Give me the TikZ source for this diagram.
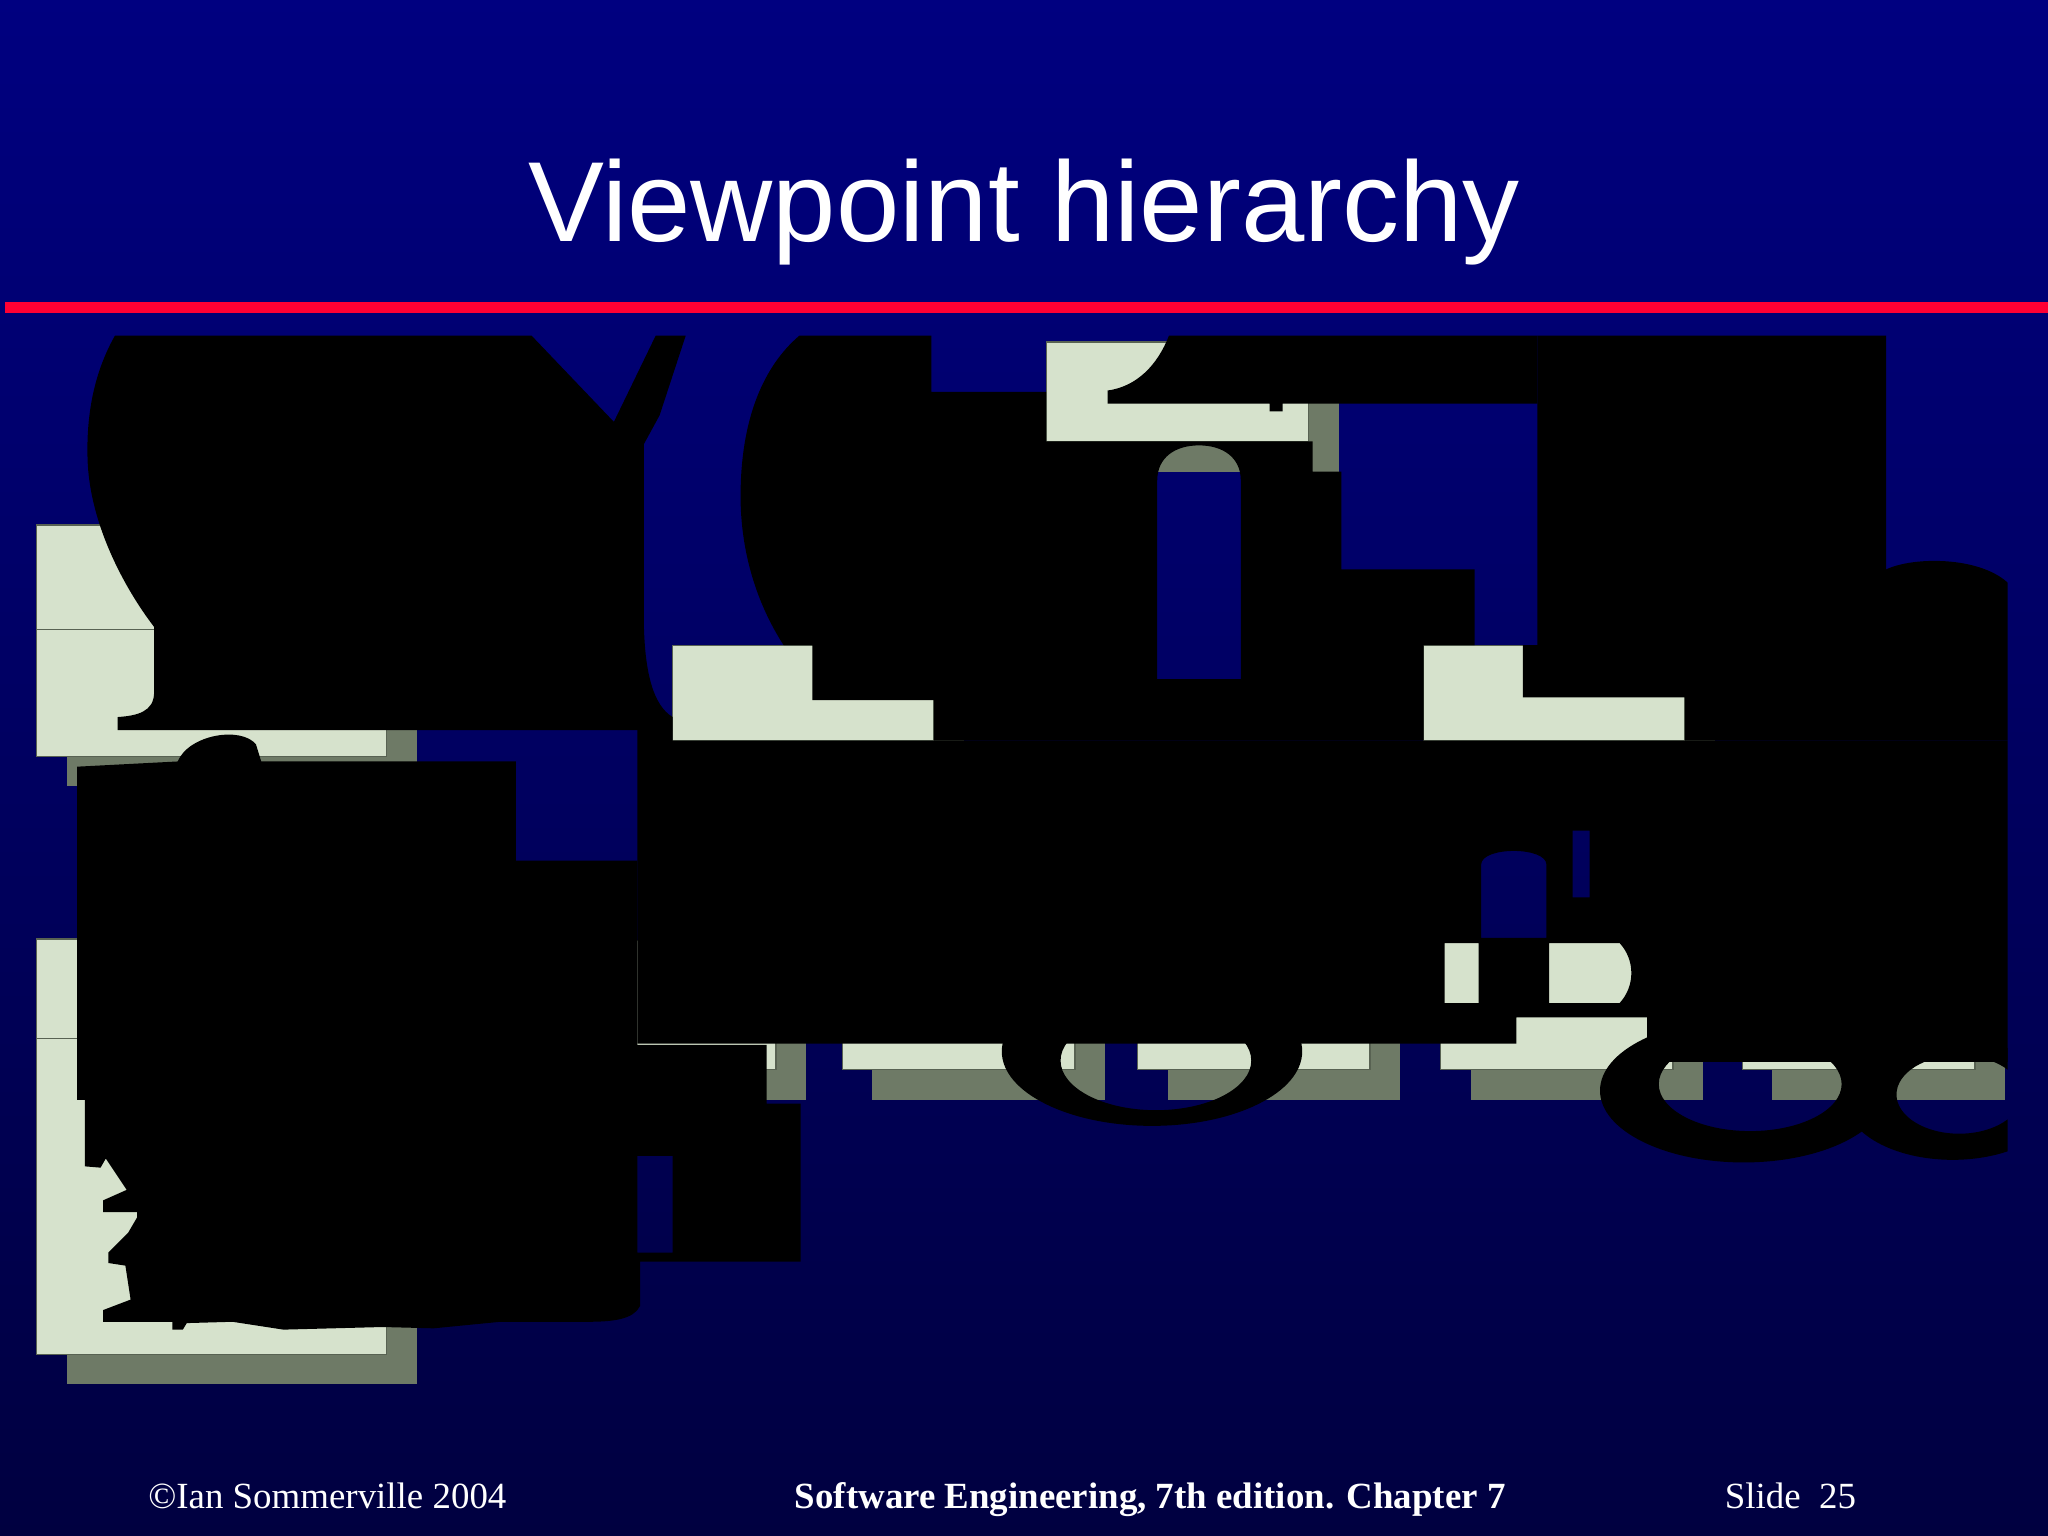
\documentclass[tikz,border=0pt]{standalone}
\usepackage{fontspec}
\setmainfont{Liberation Serif}
\newfontfamily\titlefont{Liberation Sans}
\usetikzlibrary{shadows}

\definecolor{slidenavy}{RGB}{0,0,128}
\definecolor{slidemid}{RGB}{0,0,106}
\definecolor{slidedark}{RGB}{0,0,64}
\definecolor{slidered}{RGB}{255,0,51}
\definecolor{boxfill}{RGB}{214,226,204}
\definecolor{boxshadow}{RGB}{110,122,102}
\definecolor{boxline}{RGB}{88,98,82}

\newcommand{\vpu}{0.0130612cm}

\begin{document}
\begin{tikzpicture}
        [
        x=\vpu, y=-\vpu,
        vpbox/.style={rectangle, fill=boxfill, draw=boxline, line width=0.4pt,
                inner sep=0pt, outer sep=0pt, anchor=north west,
                drop shadow={shadow xshift=23*\vpu, shadow yshift=-23*\vpu, fill=boxshadow, opacity=1}},
        glyph/.style={fill=black, even odd rule},
        foot/.style={text=white, anchor=base west, inner sep=0pt, font=\fontsize{10.5}{12}\selectfont},
        ]
                \useasboundingbox (0,0) rectangle (1568,1176);

                % slide
                \shade[top color=slidenavy, middle color=slidemid, bottom color=slidedark] (0,0) rectangle (1568,1176);
                \node[text=white, anchor=base, inner sep=0pt, font=\titlefont\fontsize{32.4}{38}\selectfont] (title) at (784,185) {Viewpoint hierarchy};
                \fill[slidered] (4,231) rectangle (1568,240);

                % boxes
                \node[vpbox, minimum width=201*\vpu, minimum height=76*\vpu]  (all)   at ( 801, 262) {};
                \node[vpbox, minimum width=268*\vpu, minimum height=177*\vpu] (left1) at (  28, 402) {};
                \node[vpbox, minimum width=268*\vpu, minimum height=318*\vpu] (left2) at (  28, 719) {};
                \node[vpbox, minimum width=200*\vpu, minimum height=73*\vpu]  (mid1)  at ( 515, 494) {};
                \node[vpbox, minimum width=200*\vpu, minimum height=73*\vpu]  (mid2)  at (1090, 494) {};
                \draw[boxline] (28,482) -- (296,482);
                \draw[boxline] (28,795) -- (296,795);

                % leaves
                \foreach \name/\xpos in {leafa/416, leafb/645, leafc/871, leafd/1103, leafe/1334}
                        \node[vpbox, minimum width=178*\vpu, minimum height=99*\vpu] (\name) at (\xpos,720) {};

                % glyphs
                \fill[glyph] (88,257) -- (407,257) -- (470,323) -- (502,257) -- (525,257) -- (505,318) -- (493,340)
                        -- (493,480) .. controls (494,515) and (500,540) .. (515,549) -- (515,559) -- (90,559) -- (90,549)
                        .. controls (105,548) and (118,545) .. (118,530) -- (118,480)
                        .. controls (95,450) and (68,400) .. (67,350) .. controls (66,310) and (75,280) .. (88,257) -- cycle;
                \fill[glyph] (612,257) -- (713,257) -- (713,300) -- (801,300) -- (801,338) -- (1005,338) -- (1005,361)
                        -- (1027,361) -- (1027,436) -- (1129,436) -- (1129,494) -- (1090,494) -- (1090,567) -- (715,567)
                        -- (715,536) -- (622,536) -- (622,494) -- (600,494)
                        .. controls (578,460) and (567,420) .. (567,380) .. controls (567,320) and (585,280) .. (612,257) -- cycle
                        (886,520) -- (886,368) .. controls (886,350) and (900,341) .. (918,341)
                        .. controls (936,341) and (950,350) .. (950,368) -- (950,520) -- cycle;
                \fill[glyph] (848,309) -- (848,299) .. controls (870,296) and (886,280) .. (895,257) -- (1177,257)
                        -- (1177,309) -- (982,309) -- (982,315) -- (972,315) -- (972,309) -- cycle;
                \fill[glyph] (1177,257) -- (1444,257) -- (1444,436) .. controls (1465,426) and (1515,426) .. (1537,446)
                        -- (1537,567) -- (1290,567) -- (1290,534) -- (1166,534) -- (1166,494) -- (1177,494) -- cycle;
                \fill[glyph] (488,559) -- (515,559) -- (515,567) -- (1537,567) -- (1537,813) -- (1261,813) -- (1261,779)
                        -- (1161,779) -- (1161,799) -- (488,799) -- cycle
                        (1134,662) .. controls (1134,648) and (1184,648) .. (1184,662) -- (1184,718) -- (1134,718) -- cycle
                        (1204,636) rectangle (1217,687)
                        (1106,722) rectangle (1132,768)
                        (1186,722) -- (1240,722) .. controls (1252,735) and (1252,755) .. (1240,768) -- (1186,768) -- cycle;
                \fill[glyph] (59,587) -- (136,583) .. controls (145,562) and (185,556) .. (196,570) -- (200,583)
                        -- (395,583) -- (395,659) -- (488,659) -- (488,800) -- (587,800) -- (587,845) -- (613,845)
                        -- (613,966) -- (490,966) -- (490,1000) .. controls (485,1010) and (470,1012) .. (450,1012)
                        -- (383,1012) -- (332,1017) -- (293,1016) -- (255,1017) -- (217,1018) -- (178,1012)
                        -- (143,1013) -- (140,1018) -- (132,1018) -- (132,1012) -- (79,1012) -- (79,1003) -- (100,995)
                        -- (98,982) -- (96,969) -- (83,967) -- (83,959) -- (98,944) -- (105,932) -- (105,928)
                        -- (79,928) -- (79,919) -- (97,911) -- (81,887) -- (77,894) -- (65,893) -- (65,842)
                        -- (59,842) -- cycle
                        (488,885) rectangle (515,959);
                \fill[glyph] (882,805) ellipse [x radius=115, y radius=57] (885,812) ellipse [x radius=73, y radius=38];
                \fill[glyph] (1335,835) ellipse [x radius=110, y radius=55] (1340,830) ellipse [x radius=70, y radius=36];
                \begin{scope}
                        \clip (1400,780) rectangle (1537,900);
                        \fill[glyph] (1495,842) ellipse [x radius=82, y radius=46] (1500,838) ellipse [x radius=48, y radius=30];
                \end{scope}

                % footer
                \node[foot] (copy)  at ( 113,1155) {\textcopyright Ian Sommerville 2004};
                \node[foot] (book)  at ( 608,1155) {\bfseries Software Engineering, 7th edition. Chapter 7};
                \node[foot] (slide) at (1320,1155) {Slide\ \ 25};
        \end{tikzpicture}
\end{document}
